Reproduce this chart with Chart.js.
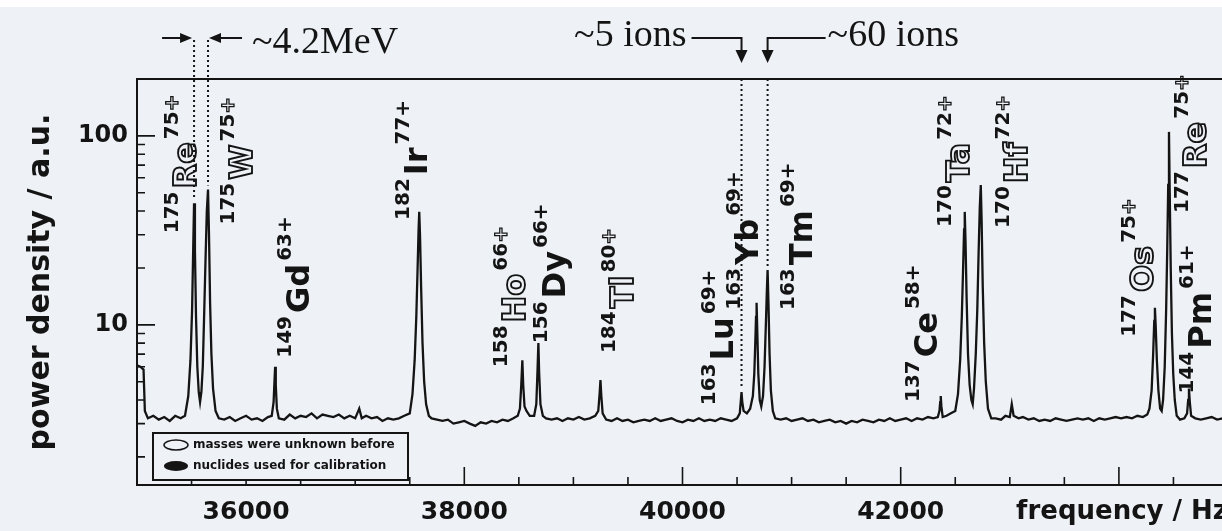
<!DOCTYPE html>
<html>
<head>
<meta charset="utf-8">
<script src="https://cdn.jsdelivr.net/npm/chart.js@4/dist/chart.umd.min.js"></script>
<style>
  html, body { margin: 0; padding: 0; background: #eef2f7; overflow: hidden; }
  #wrap { position: relative; width: 1222px; height: 531px; overflow: hidden; background: #eef2f7; }
  #strip { position: absolute; left: 0; top: 0; width: 1222px; height: 7px; background: #fff; }
  canvas { position: absolute; left: 0; top: 0; }
</style>
</head>
<body>
<div id="wrap">
  <canvas id="chartCanvas" width="1240" height="531"></canvas>
  <div id="strip"></div>
</div>
<script>
// --- data ---
// [frequency in Hz, power density in a.u.]
const spectrum = [
  [35000, 6.1], [35030, 6.0], [35060, 5.8], [35072, 3.5], [35100, 3.2], [35150, 3.3], [35200, 3.15],
  [35250, 3.25], [35300, 3.1], [35350, 3.3], [35400, 3.2],
  // 175Re / 175W doublet
  [35440, 3.3], [35470, 4.2], [35490, 6.5], [35505, 12], [35515, 25], [35523, 44], [35531, 25],
  [35541, 11], [35553, 6], [35566, 4.4], [35578, 3.9], [35590, 4.4], [35603, 6], [35615, 11],
  [35628, 22], [35640, 40], [35651, 52], [35660, 30], [35670, 13], [35682, 7], [35697, 4.6],
  [35720, 3.5], [35750, 3.2],
  [35800, 3.15], [35850, 3.25], [35900, 3.1], [35950, 3.2], [36000, 3.3], [36050, 3.15],
  [36100, 3.2], [36150, 3.1], [36200, 3.25],
  // 149Gd
  [36235, 3.3], [36252, 3.9], [36260, 5], [36266, 6], [36272, 4.8], [36282, 3.6], [36300, 3.2],
  [36350, 3.15], [36400, 3.35], [36450, 3.2], [36500, 3.3], [36550, 3.25], [36600, 3.4],
  [36650, 3.2], [36700, 3.35], [36750, 3.3], [36800, 3.25], [36850, 3.35], [36900, 3.2],
  [36950, 3.3], [37000, 3.2], [37037, 3.6], [37060, 3.2], [37100, 3.3], [37150, 3.2],
  [37200, 3.25], [37250, 3.1], [37300, 3.2], [37350, 3.15], [37400, 3.2], [37450, 3.3],
  // 182Ir
  [37500, 3.4], [37525, 4.3], [37545, 6.5], [37560, 11], [37572, 20], [37581, 32], [37587, 39.6],
  [37594, 30], [37604, 16], [37617, 8], [37632, 5], [37650, 3.8], [37675, 3.3],
  [37700, 3.2], [37750, 3.15], [37800, 3.1], [37850, 3.15], [37900, 3.0], [37950, 3.05],
  [38000, 3.1], [38050, 3.0], [38100, 2.92], [38150, 3.05], [38200, 3.0], [38250, 3.1],
  [38300, 3.05], [38350, 3.15], [38400, 3.1], [38450, 3.2], [38490, 3.3],
  // 158Ho, 156Dy
  [38510, 3.6], [38522, 4.8], [38532, 6.5], [38540, 4.8], [38552, 3.7], [38570, 3.5],
  [38600, 3.3], [38640, 3.3], [38660, 3.8], [38670, 5.5], [38679, 8], [38686, 5.6],
  [38698, 3.8], [38720, 3.3],
  [38750, 3.2], [38800, 3.15], [38850, 3.2], [38900, 3.1], [38950, 3.2], [39000, 3.15],
  [39050, 3.25], [39100, 3.15], [39150, 3.2], [39200, 3.3],
  // 184Tl
  [39228, 3.5], [39240, 4.3], [39248, 5.1], [39256, 4.2], [39268, 3.4], [39300, 3.15],
  [39350, 3.1], [39400, 3.2], [39450, 3.1], [39500, 3.15], [39550, 3.05], [39600, 3.1],
  [39650, 3.15], [39700, 3.1], [39750, 3.2], [39800, 3.1], [39850, 3.15], [39900, 3.2],
  [39950, 3.1], [40000, 3.05], [40050, 3.15], [40100, 3.1], [40150, 3.2], [40200, 3.1],
  [40250, 3.15], [40300, 3.1], [40350, 3.2], [40400, 3.15], [40450, 3.1], [40500, 3.2],
  // 163Lu, 163Yb, 163Tm
  [40525, 3.4], [40535, 4.0], [40541, 4.4], [40548, 3.9], [40560, 3.5], [40590, 3.4],
  [40620, 3.6], [40645, 4.2], [40658, 5.5], [40667, 8], [40674, 11], [40679, 13.1],
  [40686, 9], [40695, 5.5], [40708, 4.0], [40722, 3.7], [40738, 4.2], [40752, 6],
  [40764, 10], [40773, 15], [40780, 19.5], [40788, 13], [40798, 7], [40810, 4.5],
  [40828, 3.5], [40850, 3.2],
  [40900, 3.15], [40950, 3.2], [41000, 3.1], [41050, 3.15], [41100, 3.2], [41150, 3.1],
  [41200, 3.15], [41250, 3.05], [41300, 3.1], [41350, 3.15], [41400, 3.05], [41450, 3.1],
  [41500, 3.0], [41550, 3.1], [41600, 3.05], [41650, 3.15], [41700, 3.1], [41750, 3.05],
  [41800, 3.15], [41850, 3.1], [41900, 3.2], [41950, 3.1], [42000, 3.15], [42050, 3.2],
  [42100, 3.1], [42150, 3.2], [42200, 3.15], [42250, 3.25], [42300, 3.2], [42340, 3.25],
  // 137Ce
  [42355, 3.5], [42362, 3.9], [42367, 4.2], [42373, 3.7], [42385, 3.25], [42420, 3.3],
  [42460, 3.4],
  // 170Ta / 170Hf
  [42500, 3.5], [42525, 4.3], [42545, 6.5], [42560, 11], [42572, 20], [42581, 32],
  [42587, 39.6], [42594, 28], [42604, 14], [42617, 7], [42632, 4.8], [42648, 4.0],
  [42660, 3.8], [42672, 4.6], [42688, 7], [42702, 12], [42714, 24], [42725, 42],
  [42734, 55], [42742, 35], [42752, 16], [42765, 8], [42780, 5], [42800, 3.6], [42830, 3.2],
  [42870, 3.2], [42920, 3.15], [42960, 3.3], [43000, 3.25], [43018, 3.8], [43035, 3.3],
  [43080, 3.2], [43120, 3.25], [43170, 3.15], [43220, 3.2], [43270, 3.1], [43320, 3.15],
  [43370, 3.1], [43420, 3.2], [43470, 3.15], [43520, 3.1], [43570, 3.15], [43620, 3.2],
  [43670, 3.15], [43720, 3.2], [43770, 3.1], [43820, 3.2], [43870, 3.15], [43920, 3.2],
  [43970, 3.25], [44020, 3.2], [44070, 3.25], [44120, 3.2], [44170, 3.3], [44220, 3.25],
  [44260, 3.35],
  // 177Os / 177Re
  [44280, 3.6], [44300, 4.5], [44314, 7], [44324, 10.5], [44330, 12.3], [44337, 10],
  [44348, 6.5], [44362, 4.5], [44378, 3.6], [44392, 3.5], [44405, 4], [44420, 6],
  [44433, 12], [44443, 25], [44452, 55], [44459, 105], [44466, 50], [44475, 20],
  [44486, 9], [44498, 5.5], [44512, 4.0], [44530, 3.3], [44560, 3.15], [44600, 3.2],
  // 144Pm
  [44625, 3.4], [44635, 4.0], [44642, 4.6], [44650, 3.9], [44662, 3.3], [44700, 3.2],
  [44750, 3.15], [44800, 3.2], [44850, 3.25], [44900, 3.15], [44950, 3.2], [45000, 3.2]
];

// identified peaks
const peakMass    = [175, 175, 149, 182, 158, 156, 184, 163, 163, 163, 137, 170, 170, 177, 177, 144];
const peakSymbol  = ["Re", "W", "Gd", "Ir", "Ho", "Dy", "Tl", "Lu", "Yb", "Tm", "Ce", "Ta", "Hf", "Os", "Re", "Pm"];
const peakCharge  = [75, 75, 63, 77, 66, 66, 80, 69, 69, 69, 58, 72, 72, 75, 75, 61];
const peakFreq    = [35523, 35651, 36266, 37587, 38532, 38679, 39248, 40541, 40679, 40780, 42367, 42587, 42734, 44330, 44459, 44642];
const peakPower   = [44, 52, 6, 39.6, 6.5, 8, 5.1, 4.4, 13.1, 19.5, 4.2, 39.6, 55, 12.3, 105, 4.6];
const massUnknown = [true, true, false, false, true, false, true, false, false, false, false, true, true, true, true, false];

// axis ticks
const xTickValues = [35000, 35500, 36000, 36500, 37000, 37500, 38000, 38500, 39000, 39500, 40000,
  40500, 41000, 41500, 42000, 42500, 43000, 43500, 44000, 44500, 45000];
const xTickLabels = [36000, 38000, 40000, 42000];
const yTickValues = [2, 3, 4, 5, 6, 7, 8, 9, 10, 20, 30, 40, 50, 60, 70, 80, 90, 100];
const yTickLabels = [10, 100];

const legendItems = ["masses were unknown before", "nuclides used for calibration"];

const ink = "#141414";
const bg = "#eef2f7";
const sans = '"DejaVu Sans", sans-serif';
const serif = '"Liberation Serif", "Times New Roman", serif';

// --- inward ticks + frame ---
const frameAndTicks = {
  id: "frameAndTicks",
  afterDatasetsDraw(chart) {
    const { ctx, chartArea: a, scales: { x, y } } = chart;
    ctx.save();
    ctx.strokeStyle = ink;
    ctx.lineWidth = 2;
    ctx.strokeRect(a.left, a.top, a.right - a.left, a.bottom - a.top);
    ctx.lineWidth = 1.6;
    ctx.beginPath();
    xTickValues.forEach(v => {
      const px = x.getPixelForValue(v);
      const len = v % 2000 === 0 ? 18 : 8;
      ctx.moveTo(px, a.bottom);
      ctx.lineTo(px, a.bottom - len);
    });
    yTickValues.forEach(v => {
      const py = y.getPixelForValue(v);
      const len = yTickLabels.includes(v) ? 18 : 8;
      ctx.moveTo(a.left, py);
      ctx.lineTo(a.left + len, py);
    });
    ctx.stroke();
    ctx.restore();
  }
};

// rotated nuclide label: mass number, symbol, charge
function drawNuclide(ctx, bx, by, mass, sym, charge, hollow) {
  const raise = 18;
  ctx.save();
  ctx.translate(bx, by);
  ctx.rotate(-Math.PI / 2);
  ctx.textAlign = "left";
  ctx.textBaseline = "alphabetic";
  ctx.fillStyle = ink;
  ctx.strokeStyle = ink;
  let pos = 0;
  ctx.font = `bold 20px ${sans}`;
  ctx.fillText(String(mass), pos, -raise);
  pos += ctx.measureText(String(mass)).width + 3;
  ctx.font = `bold 32px ${sans}`;
  if (hollow) {
    ctx.lineWidth = 1.9;
    ctx.strokeText(sym, pos, 0);
  } else {
    ctx.fillText(sym, pos, 0);
  }
  pos += ctx.measureText(sym).width + 3;
  ctx.font = `bold 20px ${sans}`;
  ctx.fillText(String(charge), pos, -raise);
  pos += ctx.measureText(String(charge)).width;
  if (hollow) {
    ctx.lineWidth = 1.3;
    ctx.strokeText("+", pos, -raise);
  } else {
    ctx.fillText("+", pos, -raise);
  }
  ctx.restore();
}

function arrowHead(ctx, tipX, tipY, dir) {
  // dir: 'right', 'left', 'down'
  ctx.beginPath();
  if (dir === "right") {
    ctx.moveTo(tipX, tipY); ctx.lineTo(tipX - 12, tipY - 5); ctx.lineTo(tipX - 12, tipY + 5);
  } else if (dir === "left") {
    ctx.moveTo(tipX, tipY); ctx.lineTo(tipX + 12, tipY - 5); ctx.lineTo(tipX + 12, tipY + 5);
  } else {
    ctx.moveTo(tipX, tipY); ctx.lineTo(tipX - 6, tipY - 13); ctx.lineTo(tipX + 6, tipY - 13);
  }
  ctx.closePath();
  ctx.fill();
}

// --- peak labels, dotted markers, arrows, legend ---
const annotations = {
  id: "annotations",
  afterDraw(chart) {
    const { ctx, chartArea: a, scales: { x, y } } = chart;
    // label offsets from each peak top: [dx to symbol baseline, dy to label start]
    const place = [[2, 30], [44, 35], [34, -9], [8, 8], [3, 7], [27, 0], [33, -27], [-9, 13],
      [1, 7], [44, 40], [-4, 6], [4, 15], [46, 43], [-2, 29], [37, 81], [22, 5]];
    const px = i => x.getPixelForValue(peakFreq[i]);
    const py = i => y.getPixelForValue(peakPower[i]);

    ctx.save();
    ctx.fillStyle = ink;
    ctx.strokeStyle = ink;

    // dotted markers
    ctx.lineWidth = 2;
    ctx.setLineDash([2, 3]);
    ctx.beginPath();
    [0, 1].forEach(i => { ctx.moveTo(px(i), 40); ctx.lineTo(px(i), py(i) - 4); });
    [7, 9].forEach(i => { ctx.moveTo(px(i), a.top); ctx.lineTo(px(i), py(i) - 4); });
    ctx.stroke();
    ctx.setLineDash([]);

    // ~4.2MeV
    ctx.lineWidth = 2;
    ctx.beginPath();
    ctx.moveTo(px(0) - 32, 38); ctx.lineTo(px(0) - 6, 38);
    ctx.moveTo(px(1) + 34, 38); ctx.lineTo(px(1) + 5, 38);
    ctx.stroke();
    arrowHead(ctx, px(0) - 2, 38, "right");
    arrowHead(ctx, px(1) + 1, 38, "left");
    ctx.font = `38px ${serif}`;
    ctx.textAlign = "left";
    ctx.textBaseline = "alphabetic";
    ctx.fillText("~4.2MeV", px(1) + 44, 53);

    // ~5 ions / ~60 ions
    ctx.beginPath();
    ctx.moveTo(px(7) - 50, 38); ctx.lineTo(px(7), 38); ctx.lineTo(px(7), 52);
    ctx.moveTo(px(9) + 58, 38); ctx.lineTo(px(9), 38); ctx.lineTo(px(9), 52);
    ctx.stroke();
    arrowHead(ctx, px(7), 63, "down");
    arrowHead(ctx, px(9), 63, "down");
    ctx.textAlign = "right";
    ctx.fillText("~5 ions", px(7) - 55, 46);
    ctx.textAlign = "left";
    ctx.fillText("~60 ions", px(9) + 60, 46);

    // nuclide labels
    peakSymbol.forEach((sym, i) => {
      const [dx, dy] = place[i];
      drawNuclide(ctx, px(i) + dx, py(i) + dy, peakMass[i], sym, peakCharge[i], massUnknown[i]);
    });

    // legend box
    const lx = a.left + 16, ly = a.bottom - 52, lw = 255, lh = 47;
    ctx.fillStyle = bg;
    ctx.fillRect(lx, ly, lw, lh);
    ctx.fillStyle = ink;
    ctx.lineWidth = 2;
    ctx.strokeRect(lx, ly, lw, lh);
    ctx.lineWidth = 1.5;
    ctx.beginPath();
    ctx.ellipse(lx + 23, ly + 12, 12, 5, 0, 0, Math.PI * 2);
    ctx.stroke();
    ctx.beginPath();
    ctx.ellipse(lx + 23, ly + 33, 12, 5, 0, 0, Math.PI * 2);
    ctx.fill();
    ctx.font = `bold 12px ${sans}`;
    ctx.textAlign = "left";
    ctx.textBaseline = "middle";
    ctx.fillText(legendItems[0], lx + 40, ly + 12);
    ctx.fillText(legendItems[1], lx + 40, ly + 33);
    ctx.restore();
  }
};

const canvas = document.getElementById("chartCanvas");

new Chart(canvas, {
  type: "line",
  data: {
    datasets: [{
      data: spectrum.map(p => ({ x: p[0], y: p[1] })),
      borderColor: ink,
      borderWidth: 2.3,
      pointRadius: 0,
      tension: 0,
      fill: false
    }]
  },
  options: {
    responsive: false,
    animation: false,
    layout: { padding: { top: 79, right: 12, left: 0, bottom: 0 } },
    plugins: { legend: { display: false }, tooltip: { enabled: false } },
    scales: {
      x: {
        type: "linear",
        min: 35000,
        max: 45000,
        bounds: "data",
        afterBuildTicks: s => { s.ticks = xTickValues.map(v => ({ value: v })); },
        afterFit: s => { s.height = 46; },
        grid: { display: false, drawTicks: false },
        border: { display: false },
        ticks: {
          autoSkip: false,
          maxRotation: 0,
          padding: 12,
          color: ink,
          font: { family: "DejaVu Sans", weight: "bold", size: 25 },
          callback: v => xTickLabels.includes(v) ? String(v) : ""
        },
        title: {
          display: true,
          text: "frequency / Hz",
          align: "end",
          color: ink,
          font: { family: "DejaVu Sans", weight: "bold", size: 26 },
          padding: { top: 0, bottom: 3 }
        }
      },
      y: {
        type: "logarithmic",
        min: 1.42,
        max: 200,
        bounds: "data",
        afterBuildTicks: s => { s.ticks = yTickValues.map(v => ({ value: v })); },
        afterFit: s => { s.width = 137; },
        grid: { display: false, drawTicks: false },
        border: { display: false },
        ticks: {
          autoSkip: false,
          padding: 9,
          color: ink,
          font: { family: "DejaVu Sans", weight: "bold", size: 24 },
          callback: v => yTickLabels.includes(v) ? String(v) : ""
        },
        title: {
          display: true,
          text: "power density / a.u.",
          color: ink,
          font: { family: "DejaVu Sans", weight: "bold", size: 30 },
          padding: { top: 23, bottom: 0 }
        }
      }
    }
  },
  plugins: [frameAndTicks, annotations]
});
</script>
</body>
</html>
